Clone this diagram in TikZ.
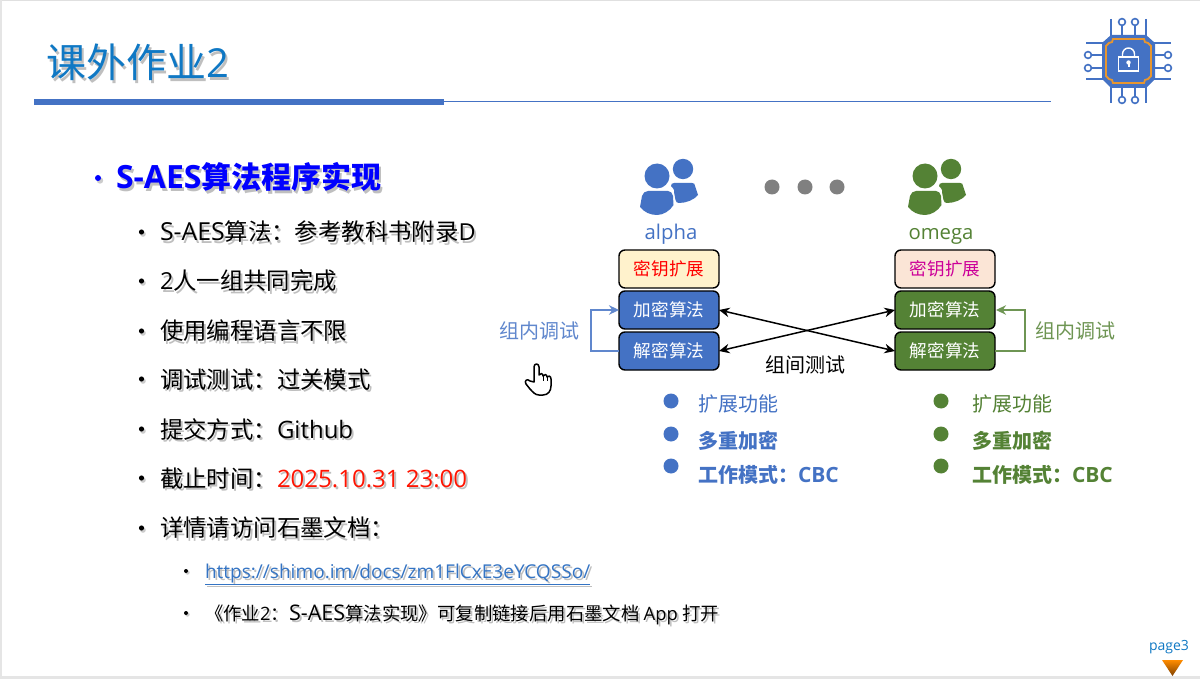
\documentclass[tikz,border=0pt]{standalone}
\usepackage{fontspec}
\setmainfont{Noto Sans CJK SC}
\newfontfamily\lat{Open Sans}
\usetikzlibrary{arrows.meta,shadings}
\definecolor{ablue}{HTML}{4472C4}
\definecolor{ogreen}{HTML}{548235}
\definecolor{tblue}{HTML}{0F78C4}
\definecolor{chiporange}{HTML}{E8962E}
\newcommand\fs[1]{\fontsize{#1}{#1}\selectfont}
\newcommand\shd[2]{\leavevmode\rlap{\raisebox{-2.5pt}{\hspace{2pt}\textcolor{black!25}{#2}}}\textcolor{#1}{#2}}
\tikzset{
  txt/.style={inner sep=0pt,outer sep=0pt,anchor=base west},
  ctxt/.style={inner sep=0pt,outer sep=0pt,anchor=base},
  algbox/.style={draw=black,line width=1.4pt,rounded corners=6pt,minimum width=100pt,minimum height=38pt,inner sep=0pt,outer sep=0pt,font=\fs{17.6}},
  link/.style={line width=1.5pt,{Stealth[length=10.5pt,width=9.5pt]}-{Stealth[length=10.5pt,width=9.5pt]}},
  loopa/.style={line width=1.4pt,-{Stealth[length=10pt,width=9.5pt]}},
  chipline/.style={draw=ablue,line width=1.6pt},
  chippin/.style={draw=ablue,fill=white,line width=1.6pt}
}
\newcommand\persons[1]{
  \fill[#1] (657,176) circle (12.5);
  \fill[#1] (683,169) circle (10.2);
  \fill[#1] (648,191) -- (668,191) .. controls (671,191) and (672,193) .. (673,196) -- (673.5,205)
     .. controls (670,211) and (663,215) .. (657,215) .. controls (650,215) and (644,212) .. (640,207)
     -- (642,196) .. controls (643,193) and (645,191) .. (648,191) -- cycle;
  \fill[#1] (674,183) -- (692,183) .. controls (694,183) and (695,184) .. (695,186) -- (698,195)
     .. controls (694,200) and (686,203) .. (679,203) .. controls (677,203) and (676,202) .. (675.5,200)
     -- (674,192) .. controls (675,190) and (672,187) .. (671,186) .. controls (671,184) and (672,183) .. (674,183) -- cycle;
}
\begin{document}
\begin{tikzpicture}[x=1pt,y=-1pt]
\useasboundingbox (0,0) rectangle (1200,679);
\fill[white] (0,0) rectangle (1200,679);
\fill[black!12] (0,0) rectangle (1200,1);
\fill[black!10] (0,0) rectangle (1.5,679);
\fill[black!10] (0,676) rectangle (1200,679);
% title
\node[txt] (title) at (46,78) {\fs{40}\shd{tblue}{课外作业\lat 2}};
\fill[ablue] (34,99) rectangle (444,105);
\draw[ablue,line width=1pt] (444,102) -- (1051,102);
% chip icon
\fill[ablue] (1111,35) -- (1146,35) -- (1155,43) -- (1155,79) -- (1146,88) -- (1111,88) -- (1102,79) -- (1102,43) -- cycle;
\draw[chiporange,line width=1.8pt] (1113,39) -- (1144,39) -- (1145,42) -- (1148,43) -- (1151,46) -- (1151,76) -- (1148,79) -- (1145,80) -- (1144,83) -- (1113,83) -- (1112,80) -- (1109,79) -- (1106,76) -- (1106,46) -- (1109,43) -- (1112,42) -- cycle;
\foreach \x in {1111,1146}{\draw[chipline] (\x,19) -- (\x,36); \draw[chipline] (\x,87) -- (\x,103);}
\foreach \y in {43,79}{\draw[chipline] (1086,\y) -- (1103,\y); \draw[chipline] (1154,\y) -- (1171,\y);}
\foreach \x in {1122,1135}{
  \draw[chipline] (\x,25) -- (\x,36); \draw[chippin] (\x,22) circle (3.4);
  \draw[chipline] (\x,87) -- (\x,97); \draw[chippin] (\x,100) circle (3.4);}
\foreach \y in {55,68}{
  \draw[chipline] (1092,\y) -- (1103,\y); \draw[chippin] (1088,\y) circle (3.4);
  \draw[chipline] (1154,\y) -- (1165,\y); \draw[chippin] (1168,\y) circle (3.4);}
\draw[white,line width=1.4pt] (1118.5,57) rectangle (1138.5,71);
\draw[white,line width=1.4pt] (1122.5,57) -- (1122.5,54) arc (180:360:6) -- (1134.5,57);
\fill[white] (1128.5,62.5) circle (2.2);
\fill[white] (1127.5,63) rectangle (1129.5,67);
% main list
\fill[black!20] (100,180.5) circle (3.2);
\fill[blue] (98,178) circle (3);
\node[txt] (head) at (116,189) {\fs{30}\bfseries\shd{blue}{{\fs{32}\lat S-AES}算法程序实现}};
\foreach \y in {232,281,331,379,429,478,528}{
  \fill[black!20] (143,\y+2) circle (2.8);
  \fill[black] (141.5,\y) circle (2.6);
}
\node[txt] (i1) at (160,241) {\fs{23.4}\shd{black}{{\fs{24.8}\lat S-AES}算法：参考教科书附录{\lat D}}};
\node[txt] (i2) at (160,290) {\fs{23.4}\shd{black}{{\lat 2}人一组共同完成}};
\node[txt] (i3) at (160,339.5) {\fs{23.4}\shd{black}{使用编程语言不限}};
\node[txt] (i4) at (160,388) {\fs{23.4}\shd{black}{调试测试：过关模式}};
\node[txt] (i5) at (160,438) {\fs{23.4}\shd{black}{提交方式：{\fs{24}\lat Github}}};
\node[txt] (i6) at (160,487) {\fs{23.4}\shd{black}{截止时间：}{\fs{24}\shd{red!85!orange}{\lat 2025.10.31 23:00}}};
\node[txt] (i7) at (160,536.5) {\fs{23.4}\shd{black}{详情请访问石墨文档：}};
\foreach \y in {571,613}{
  \fill[black!20] (187.5,\y+1.5) circle (2.2);
  \fill[black] (186,\y) circle (2);
}
\node[txt] (u1) at (205,578) {\fs{19.05}\shd{ablue!70!tblue}{\lat\underline{https://shimo.im/docs/zm1FlCxE3eYCQSSo/}}};
\node[txt] (u2) at (205,620) {\fs{18.4}\shd{black}{《作业{\lat 2}：{\fs{21.5}\lat S-AES}算法实现》可复制链接后用石墨文档 {\lat App} 打开}};
% persons
\persons{ablue}
\begin{scope}[xshift=268pt]\persons{ogreen}\end{scope}
\foreach \x in {772,805,837}{\fill[black!50] (\x,187) circle (7.5);}
\node[ctxt,text=ablue] (alpha) at (671,240) {\fs{20.3}\lat alpha};
\node[ctxt,text=ogreen] (omega) at (941,240) {\fs{20.3}\lat omega};
% boxes
\definecolor{kafill}{HTML}{FFF2CC}
\definecolor{kofill}{HTML}{FBE5D6}
\definecolor{kotext}{HTML}{CC0099}
\node[algbox,fill=kafill,text=red] (ka) at (669,269) {密钥扩展};
\node[algbox,fill=ablue,text=white] (ea) at (669,310) {加密算法};
\node[algbox,fill=ablue,text=white] (da) at (669,351) {解密算法};
\node[algbox,fill=kofill,text=kotext] (ko) at (945,269) {密钥扩展};
\node[algbox,fill=ogreen,text=white] (eo) at (945,310) {加密算法};
\node[algbox,fill=ogreen,text=white] (do) at (945,351) {解密算法};
\draw[link] (ea.east) -- (do.west);
\draw[link] (da.east) -- (eo.west);
\draw[loopa,draw=ablue!85!white] (da.west) -- ++(-28,0) |- (ea.west);
\draw[loopa,draw=ogreen!85!white] (do.east) -- ++(30,0) |- ([xshift=1pt]eo.east);
\node[ctxt,text=ablue!85!white] (la) at (539,338.5) {\fs{20}组内调试};
\node[ctxt,text=ogreen!85!white] (lo) at (1075,338.5) {\fs{20}组内调试};
\node[ctxt] (mid) at (805.5,372.5) {\fs{20}组间测试};
% feature lists
\foreach \x/\c in {671/ablue,941/ogreen}{
  \foreach \y in {401,434,466}{\fill[\c] (\x,\y) circle (7.5);}
}
\node[txt,text=ablue] (a1) at (698,411) {\fs{20}扩展功能};
\node[txt,text=ablue] (a2) at (698,448.5) {\fs{20}\bfseries 多重加密};
\node[txt,text=ablue] (a3) at (698,482.5) {\fs{20}\bfseries 工作模式：{\fs{21}\lat CBC}};
\node[txt,text=ogreen] (o1) at (972,411) {\fs{20}扩展功能};
\node[txt,text=ogreen] (o2) at (972,448.5) {\fs{20}\bfseries 多重加密};
\node[txt,text=ogreen] (o3) at (972,482.5) {\fs{20}\bfseries 工作模式：{\fs{21}\lat CBC}};
% cursor
\draw[black,fill=white,line width=1.5pt,line join=round]
  (534,382) -- (534,367) .. controls (534,363) and (539,363) .. (539,367) -- (539,375)
  .. controls (540,373) and (543,373) .. (543,376) .. controls (544,374) and (547,374) .. (547,377)
  .. controls (548,375) and (551,376) .. (551,379) -- (551,386)
  .. controls (551,391) and (548,395) .. (543,395) -- (539,395)
  .. controls (535,395) and (533,392) .. (530,389) -- (526,384)
  .. controls (524,381) and (527,378) .. (530,381) -- cycle;
\draw[black,line width=1pt] (543,376) -- (543,381) (547,377) -- (547,381);
% page mark
\node[ctxt,text=tblue] (pg) at (1169,650) {\fs{14}\lat page3};
\shade[top color=orange!90!yellow,bottom color=orange!50!black] (1162,660) -- (1183,660) -- (1172.5,676) -- cycle;
\end{tikzpicture}
\end{document}
